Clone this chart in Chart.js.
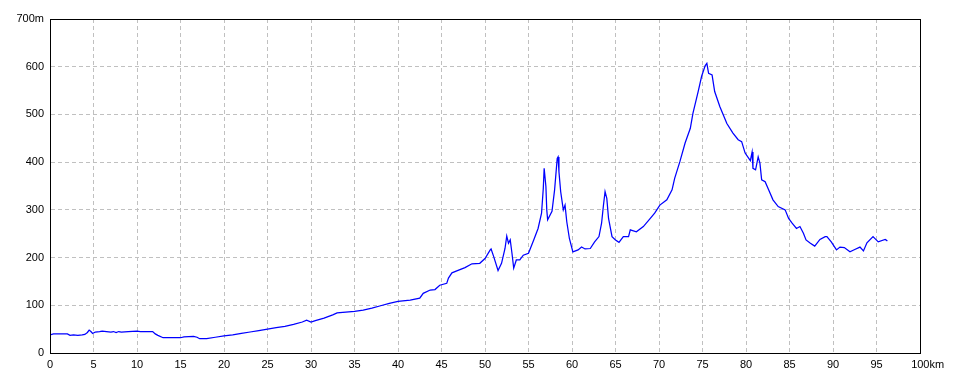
<!DOCTYPE html>
<html>
<head>
<meta charset="utf-8">
<script src="https://cdn.jsdelivr.net/npm/chart.js@4"></script>
<style>
  html, body { margin: 0; padding: 0; background: #fff; }
  #wrap { width: 960px; height: 384px; }
</style>
</head>
<body>
<div id="wrap"><canvas id="profile"></canvas></div>
<script>
// distance (km) and elevation (m)
const distanceKm = [
  0, 0.4, 2.0, 2.3, 2.7, 3.2, 3.7, 4.0, 4.3, 4.5, 4.7, 4.9, 5.2, 5.7, 6.0, 6.5, 7.0, 7.3, 7.6, 7.9,
  8.2, 9.0, 10.0, 10.4, 11.8, 12.1, 12.4, 13.0, 14.0, 15.0, 15.4, 16.5, 16.9, 17.2, 17.6, 18.0, 19.0, 20.0,
  21.0, 22.0, 23.0, 24.0, 25.0, 26.0, 27.0, 28.0, 29.0, 29.5, 30.0, 30.5, 31.5, 32.5, 33.0, 35.0, 36.0,
  37.0, 38.0, 39.0, 40.0, 41.4, 42.5, 42.9, 43.7, 44.25, 44.8, 45.6, 45.8, 46.2, 46.9, 47.7, 48.5, 49.4,
  50.0, 50.6, 50.7, 51.0, 51.5, 51.9, 52.3, 52.5, 52.7, 52.9, 53.1, 53.3, 53.6, 54.0, 54.4, 55.0, 55.6,
  56.1, 56.5, 56.7, 56.8, 57.0, 57.1, 57.2, 57.7, 58.0, 58.3, 58.4, 58.5, 58.7, 59.0, 59.2, 59.4, 59.7,
  60.1, 60.7, 61.1, 61.5, 62.1, 62.6, 63.1, 63.4, 63.6, 63.8, 64.0, 64.2, 64.6, 65.0, 65.4, 65.9, 66.5,
  66.7, 67.4, 68.2, 69.0, 69.5, 70.1, 70.9, 71.5, 71.8, 72.4, 73.0, 73.6, 73.9, 74.5, 74.9, 75.3, 75.5,
  75.7, 76.1, 76.4, 77.0, 77.8, 78.5, 79.1, 79.5, 79.9, 80.5, 80.7, 80.8, 81.1, 81.4, 81.6, 81.8, 82.2,
  82.6, 83.1, 83.7, 84.5, 84.9, 85.3, 85.8, 86.2, 86.6, 86.9, 87.4, 87.9, 88.5, 89.1, 89.3, 89.8, 90.4,
  90.8, 91.3, 91.95, 92.5, 93.1, 93.5, 93.9, 94.6, 95.2, 96.0, 96.25
];
const elevationM = [
  38, 40, 40, 37, 38, 37, 38, 39, 43, 48, 45, 41, 44, 45, 46, 45, 44, 45, 43, 45,
  44, 45, 46, 45, 45, 40, 37, 32, 32, 32, 34, 35, 33, 30, 30, 30, 33, 36,
  38, 41, 44, 47, 50, 53, 56, 60, 65, 69, 65, 68, 73, 80, 84, 87, 90,
  94, 99, 104, 108, 111, 115, 125, 132, 133, 142, 146, 157, 168, 173, 179, 187, 188,
  198, 216, 218, 202, 173, 188, 219, 245, 230, 237, 209, 178, 195, 195, 205, 209, 237,
  261, 293, 345, 387, 349, 300, 279, 297, 342, 408, 411, 380, 338, 300, 310, 275, 240,
  212, 216, 222, 218, 219, 233, 244, 272, 307, 338, 324, 282, 244, 237, 232, 244, 244,
  258, 254, 265, 282, 293, 310, 321, 342, 366, 401, 440, 471, 502, 548, 580, 602, 607,
  586, 583, 548, 516, 481, 461, 447, 443, 419, 403, 421, 387, 384, 411, 398, 363, 359,
  342, 321, 307, 300, 282, 272, 261, 265, 251, 237, 230, 224, 238, 244, 244, 233, 216,
  222, 221, 212, 217, 222, 214, 231, 244, 233, 238, 235
];

// axis ticks
const xTicks = { min: 0, max: 100, step: 5, unit: 'km' };
const yTicks = { min: 0, max: 700, step: 100, unit: 'm' };

const points = distanceKm.map((d, i) => ({ x: d, y: elevationM[i] }));

// black frame around the plot area
const frame = {
  id: 'frame',
  afterDraw(chart) {
    const { ctx, chartArea: a } = chart;
    ctx.save();
    ctx.strokeStyle = '#000';
    ctx.lineWidth = 1;
    ctx.strokeRect(Math.round(a.left) + 0.5, Math.round(a.top) + 0.5,
      Math.round(a.right - a.left), Math.round(a.bottom - a.top));
    ctx.restore();
  }
};

const font = { family: 'Liberation Sans', size: 11 };
const grid = {
  color: '#c0c0c0',
  lineWidth: 1,
  drawTicks: false
};

new Chart(document.getElementById('profile'), {
  type: 'line',
  data: {
    datasets: [{
      data: points,
      borderColor: '#0000ff',
      borderWidth: 1.25,
      pointRadius: 0,
      tension: 0,
      fill: false
    }]
  },
  options: {
    responsive: true,
    maintainAspectRatio: false,
    animation: false,
    layout: { padding: { top: 19, right: 40, left: 0, bottom: 0 } },
    plugins: { legend: { display: false }, tooltip: { enabled: false } },
    scales: {
      x: {
        type: 'linear',
        min: xTicks.min,
        max: xTicks.max,
        grid: grid,
        border: { display: true, color: '#000', dash: [4, 3] },
        ticks: {
          stepSize: xTicks.step,
          color: '#000',
          font: font,
          padding: 5,
          maxRotation: 0,
          autoSkip: false,
          // "100" sits on the tick, the unit trails to the right
          callback: v => v === xTicks.max ? '     ' + v + xTicks.unit : v
        },
        afterFit: s => { s.height = 31; }
      },
      y: {
        min: yTicks.min,
        max: yTicks.max,
        grid: grid,
        border: { display: true, color: '#000', dash: [4, 3] },
        ticks: {
          stepSize: yTicks.step,
          color: '#000',
          font: font,
          padding: 6,
          callback: v => v === yTicks.max ? v + yTicks.unit : v
        },
        afterFit: s => { s.width = 50; }
      }
    }
  },
  plugins: [frame]
});
</script>
</body>
</html>
